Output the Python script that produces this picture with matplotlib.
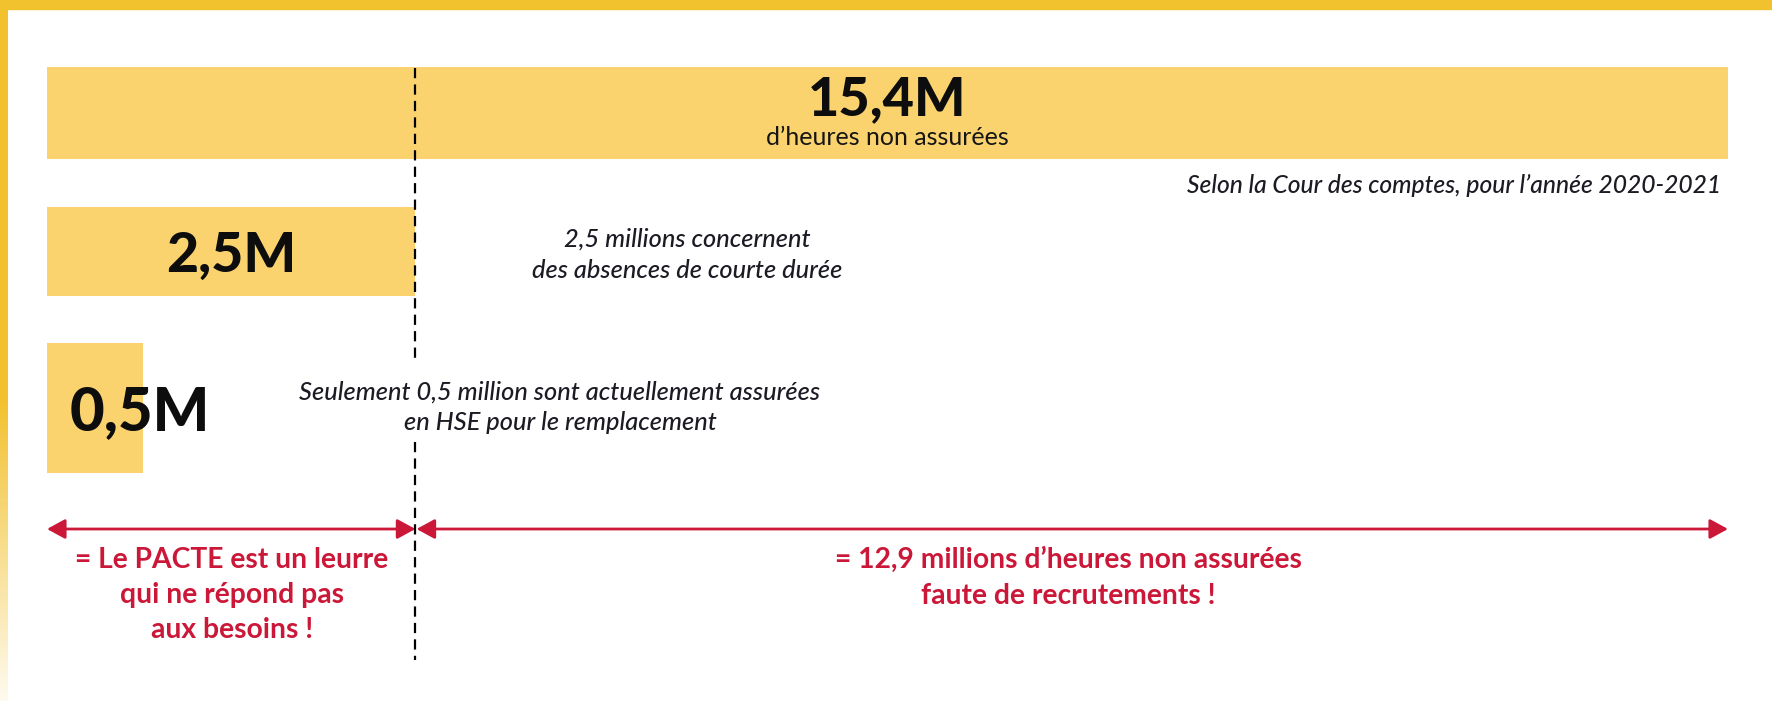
import numpy as np
import matplotlib
matplotlib.use('Agg')
from matplotlib import pyplot as plt
from matplotlib.patches import Rectangle

# valeurs (millions d'heures)
valeurs = [15.4, 2.5, 0.5]
etiquettes = ['15,4M', '2,5M', '0,5M']
sous_titre = "d\u2019heures non assurées"
source = "Selon la Cour des comptes, pour l\u2019année 2020-2021"
note_25 = ["2,5 millions concernent", "des absences de courte durée"]
note_05 = ["Seulement 0,5 million sont actuellement assurées", "en HSE pour le remplacement"]
rouge_g = ["= Le PACTE est un leurre", "qui ne répond pas", "aux besoins !"]
rouge_d = ["= 12,9 millions d\u2019heures non assurées", "faute de recrutements !"]

JAUNE = '#FBD36E'
BORD = '#F2C12E'
ROUGE = '#CC1838'
ENCRE = '#1b1b24'

W, H = 1772, 701
fig = plt.figure(figsize=(W / 100, H / 100), dpi=100)
fig.patch.set_facecolor('white')

# echelle en puissance (les barres de l'original ne sont pas proportionnelles)
p = 0.835
fwd = lambda x: np.power(np.clip(x, 0, None), p)
inv = lambda x: np.power(np.clip(x, 0, None), 1 / p)

x0, x1 = 47, 1728
ax = fig.add_axes([x0 / W, 0, (x1 - x0) / W, 1])
ax.set_xscale('function', functions=(fwd, inv))
ax.set_xlim(0, valeurs[0])
ax.set_ylim(H, 0)
ax.axis('off')

# barres
y_bar = [113, 251.5, 408]
h_bar = [92, 89, 130]
ax.barh(y_bar, valeurs, height=h_bar, left=0, color=JAUNE, zorder=1)

def frac(v):
    return fwd(v) / fwd(valeurs[0])

def fx(px):
    return (px - x0) / (x1 - x0)

# x en fraction d'axes, y en donnees (pixels)
yt = ax.get_yaxis_transform()
bold = dict(family=['Lato', 'DejaVu Sans'], weight='black', color='#0d0d0d')
ax.text(frac(valeurs[0]) / 2, 115, etiquettes[0], transform=yt, ha='center', va='baseline', fontsize=39, **bold, zorder=3)
ax.text(0.5, 145, sous_titre, transform=yt, ha='center', va='baseline', fontsize=18,
        family=['Lato', 'DejaVu Sans'], color='#151515', zorder=3)
ax.text(frac(valeurs[1]) / 2, 272, etiquettes[1], transform=yt, ha='center', va='baseline', fontsize=40, **bold, zorder=3)
ax.text(fx(70), 430, etiquettes[2], transform=yt, ha='left', va='baseline', fontsize=43, **bold, zorder=3)

ital = dict(family=['Lato', 'DejaVu Sans'], style='italic', weight='medium', color=ENCRE, fontsize=18.3)
ax.text(fx(1721), 193, source, transform=yt, ha='right', va='baseline', **{**ital, 'fontsize': 17.7})
for i, l in enumerate(note_25):
    ax.text(fx(687), 247 + i * 31, l, transform=yt, ha='center', va='baseline', **ital)
for i, l in enumerate(note_05):
    ax.text(fx(560), 400 + i * 30, l, transform=yt, ha='center', va='baseline', zorder=6, **ital)

# ligne pointillee a 2,5M, coupee derriere le texte
ax.vlines([valeurs[1], valeurs[1]], [68, 442], [363, 660], colors='black', linewidth=1.6,
          linestyles=(0, (4.6, 2.8)), zorder=4)

# fleches
fl = dict(arrowstyle='<|-|>,head_length=1.1,head_width=0.6', color=ROUGE, lw=2.0,
          shrinkA=0, shrinkB=0, mutation_scale=10)
ax.annotate('', xy=(0, 529), xytext=(valeurs[1], 529), arrowprops=fl)
ax.annotate('', xy=(valeurs[1] * 1.004, 529), xytext=(valeurs[0], 529), arrowprops=fl)

rg = dict(family=['Lato', 'DejaVu Sans'], weight='bold', color=ROUGE, fontsize=20.3)
for i, l in enumerate(rouge_g):
    ax.text(fx(232), 568 + i * 35, l, transform=yt, ha='center', va='baseline', **rg)
for i, l in enumerate(rouge_d):
    ax.text(fx(1068), 568 + i * 36, l, transform=yt, ha='center', va='baseline', **rg)

# cadre jaune : bande en haut, bande a gauche en degrade
fig.patches.append(Rectangle((0, 1 - 9 / H), 1, 9 / H, transform=fig.transFigure, color=BORD, zorder=10))
grad = np.ones((H, 1, 4))
c = np.array(matplotlib.colors.to_rgb(BORD))
t = np.clip((np.arange(H) - 400) / 300, 0, 1)[:, None]
alpha = 1 - 0.92 * t
grad[:, 0, :3] = c
grad[:, 0, 3] = alpha[:, 0]
axb = fig.add_axes([0, 0, 8 / W, 1])
axb.imshow(grad, aspect='auto', extent=(0, 1, H, 0))
axb.axis('off')

fig.savefig('out.png', dpi=100)
